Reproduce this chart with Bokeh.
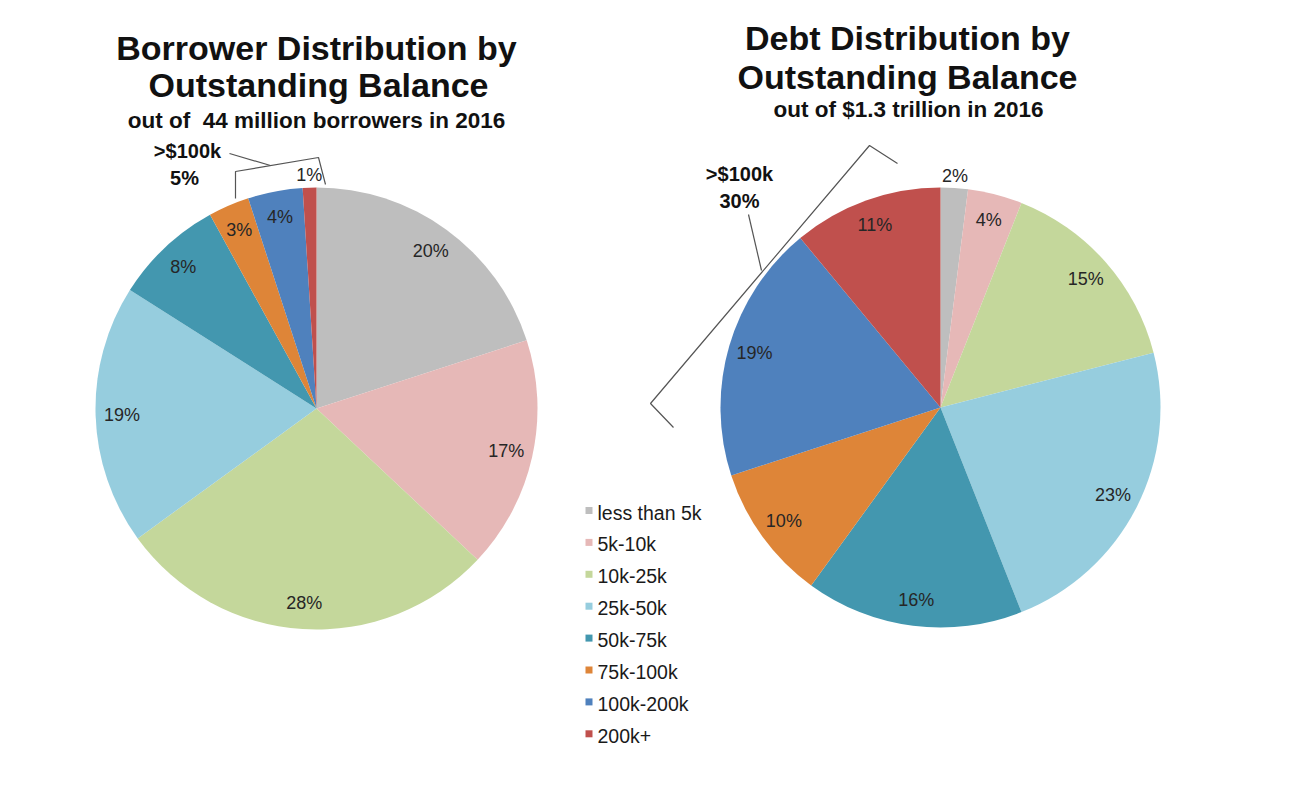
import math
from bokeh.plotting import figure
from bokeh.models import Range1d, ColumnDataSource
from bokeh.embed import file_html
from bokeh.resources import INLINE
from bokeh.core.properties import value

# ---------------- data ----------------
categories = ["less than 5k", "5k-10k", "10k-25k", "25k-50k",
              "50k-75k", "75k-100k", "100k-200k", "200k+"]
borrower_pct = [20, 17, 28, 19, 8, 3, 4, 1]
debt_pct = [2, 4, 15, 23, 16, 10, 19, 11]
colors = ["#BEBEBE", "#E6B8B7", "#C4D79B", "#96CDDE",
          "#4397AF", "#DE8538", "#4F81BD", "#C0504D"]

left_title = ["Borrower Distribution by", "Outstanding Balance"]
left_sub = "out of \u00a044 million borrowers in 2016"
right_title = ["Debt Distribution by", "Outstanding Balance"]
right_sub = "out of $1.3 trillion in 2016"
left_group = [">$100k", "5%"]
right_group = [">$100k", "30%"]

FONT = value("Liberation Sans")

# ---------------- figure ----------------
W, H = 1288, 769
p = figure(width=W, height=H, x_range=Range1d(0, 1288), y_range=Range1d(16, 785),
           output_backend="svg", toolbar_location=None, min_border=0)
p.axis.visible = False
p.grid.visible = False
p.outline_line_color = None
p.background_fill_color = "white"


def Y(py):
    return 785 - py


def pie(cx, cy, r, vals):
    total = float(sum(vals))
    cum = 0.0
    st, en, lx, ly, lt = [], [], [], [], []
    for v in vals:
        a_end = math.pi / 2 - 2 * math.pi * cum / total
        a_start = math.pi / 2 - 2 * math.pi * (cum + v) / total
        st.append(a_start)
        en.append(a_end)
        mid = (a_start + a_end) / 2
        rf = 1.055 if v <= 2 else 0.88
        lx.append(cx + r * rf * math.cos(mid))
        ly.append(Y(cy) + r * rf * math.sin(mid))
        lt.append(f"{v}%")
        cum += v
    src = ColumnDataSource(dict(start=st, end=en, color=colors, cat=categories))
    p.wedge(x=cx, y=Y(cy), radius=r, start_angle="start", end_angle="end",
            fill_color="color", line_color=None, source=src)
    lsrc = ColumnDataSource(dict(x=lx, y=ly, t=lt))
    p.text(x="x", y="y", text="t", source=lsrc, text_font=FONT,
           text_font_size="18px", text_color="#262626",
           text_align="center", text_baseline="middle")


pie(316, 408, 221, borrower_pct)
pie(940, 407, 220, debt_pct)


def txt(x, py, s, size, bold=True, align="center", color="#111111"):
    p.text(x=[x], y=[Y(py)], text=[s], text_font=FONT, text_font_size=size,
           text_font_style="bold" if bold else "normal", text_color=color,
           text_align=align, text_baseline="middle")


# titles
txt(316, 47, left_title[0], "34px")
txt(318, 84, left_title[1], "34px")
txt(316, 120, left_sub, "22.5px")
txt(907, 37, right_title[0], "34px")
txt(907, 76, right_title[1], "34px")
txt(908, 109, right_sub, "22.5px")

# group annotations
txt(187, 150, left_group[0], "20px")
txt(184, 177, left_group[1], "20px")
txt(739, 173, right_group[0], "20px")
txt(739, 200, right_group[1], "20px")

LC = "#555555"
# left bracket
p.line(x=[235, 235, 318, 325], y=[Y(198), Y(171), Y(157), Y(184)], line_color=LC, line_width=1.2)
p.line(x=[229, 270], y=[Y(153), Y(165)], line_color=LC, line_width=1.2)
# right bracket
p.line(x=[673, 650, 869, 897], y=[Y(427), Y(403), Y(145), Y(163)], line_color=LC, line_width=1.2)
p.line(x=[748, 761], y=[Y(214), Y(270)], line_color=LC, line_width=1.2)

# legend
ly = [Y(512 + 31.9 * i) for i in range(len(categories))]
p.scatter(x=[588.5] * len(categories), y=[v + 2 for v in ly], marker="square", size=7,
          fill_color=colors, line_color=None)
p.text(x=[597] * len(categories), y=ly, text=categories, text_font=FONT,
       text_font_size="19.5px", text_color="#1a1a1a", text_align="left",
       text_baseline="middle")

open("out.html", "w").write(file_html(p, INLINE))
